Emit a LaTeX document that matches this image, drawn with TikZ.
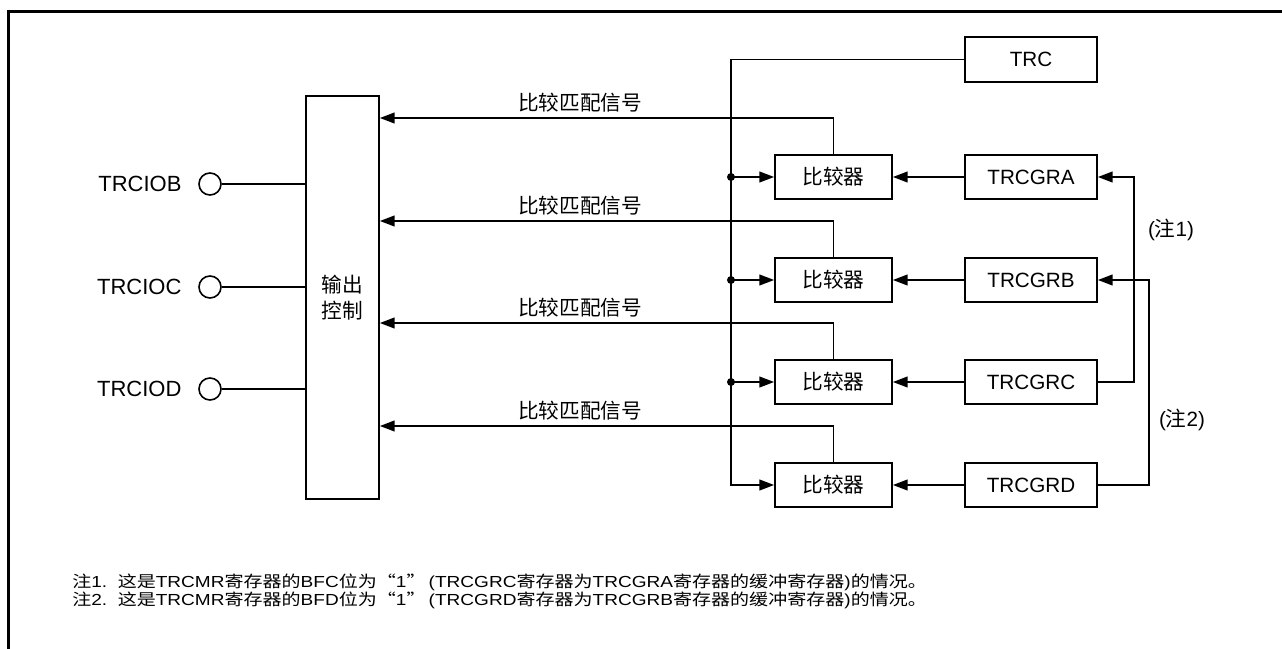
\documentclass[tikz,border=0pt]{standalone}
\usepackage{fontspec}
\setmainfont{Liberation Sans}
\newfontfamily\cjk{Noto Sans CJK SC}
\newcommand{\zh}[1]{{\cjk #1}}
\usetikzlibrary{arrows.meta,positioning}

\begin{document}
\begin{tikzpicture}[x=0.75pt, y=-0.75pt, line join=miter,
  every node/.style={font=\fontsize{15.5}{20}\selectfont},
  blk/.style={draw, line width=1.3pt, minimum width=87.75pt, minimum height=33pt, inner sep=0pt},
  reg/.style={blk, minimum width=99pt},
  pin/.style={draw, circle, line width=1.2pt, minimum size=16.5pt, inner sep=0pt},
  wire/.style={line width=1.3pt},
  sig/.style={wire, -{Triangle[length=11pt,width=8pt]}},
  dot/.style={circle, fill, inner sep=0pt, minimum size=6pt},
  note/.style={anchor=west, inner sep=0pt, font=\fontsize{12}{14}\selectfont}]
  \useasboundingbox (0,0) rectangle (1282,649);

  % Khung
  \draw[line width=2.5pt] (8.3,649) -- (8.3,11.7) -- (1282,11.7);

  % Khối điều khiển đầu ra
  \node[blk, minimum width=54.75pt, minimum height=302pt, align=center] (oc) at (342.5,297.5) {\zh{输出}\\\zh{控制}};
  \node[reg, minimum height=33.75pt] (trc) at (1031,59.5) {TRC};

  % Các chân ra
  \foreach \p/\y in {B/184, C/287, D/389} {
    \node[pin] (p\p) at (210,\y) {};
    \node[left=9pt of p\p, font=\fontsize{16.5}{20}\selectfont] (t\p) {TRCIO\p};
    \draw[wire] (p\p) -- (oc.west |- p\p);
  }

  % Bộ so sánh và thanh ghi
  \foreach \r/\y in {A/177, B/280, C/382, D/485} {
    \node[blk] (cmp\r) at (833.5,\y) {\zh{比较器}};
    \node[reg] (gr\r) at (1031,\y) {TRCGR\r};
    \draw[sig] (gr\r) -- (cmp\r);
    \coordinate (m\r) at (834,\y-59);
    \draw[sig] (cmp\r.north) |- (oc.east |- m\r);
    \node[above=1pt] (lbl\r) at (580,\y-59) {\zh{比较匹配信号}};
  }

  % Đường TRC
  \coordinate (tap) at (731,0);
  \draw[sig] (trc.west) -| (tap |- cmpD.west) -- (cmpD.west);
  \foreach \r in {A,B,C} {
    \node[dot] (j\r) at (tap |- cmp\r.west) {};
    \draw[sig] (j\r.center) -- (cmp\r.west);
  }

  % Thanh ghi đệm
  \coordinate (fa) at (1134,0);
  \coordinate (fb) at (1149,0);
  \draw[sig] (grC.east) -| (fa |- grA.east) -- (grA.east);
  \draw[sig] (grD.east) -| (fb |- grB.east) -- (grB.east);
  \node (n1) at (1171,230) {(\zh{注}1)};
  \node (n2) at (1182,420) {(\zh{注}2)};

  % Chú thích
  \node[note] (note1) at (72,582) {\scalebox{1.19}[1]{\zh{注}1.\ \ \zh{这是}TRCMR\zh{寄存器的}BFC\zh{位为“}1\zh{”}\,(TRCGRC\zh{寄存器为}TRCGRA\zh{寄存器的缓冲寄存器})\zh{的情况。}}};
  \node[note] (note2) at (72,600) {\scalebox{1.19}[1]{\zh{注}2.\ \ \zh{这是}TRCMR\zh{寄存器的}BFD\zh{位为“}1\zh{”}\,(TRCGRD\zh{寄存器为}TRCGRB\zh{寄存器的缓冲寄存器})\zh{的情况。}}};
\end{tikzpicture}
\end{document}
